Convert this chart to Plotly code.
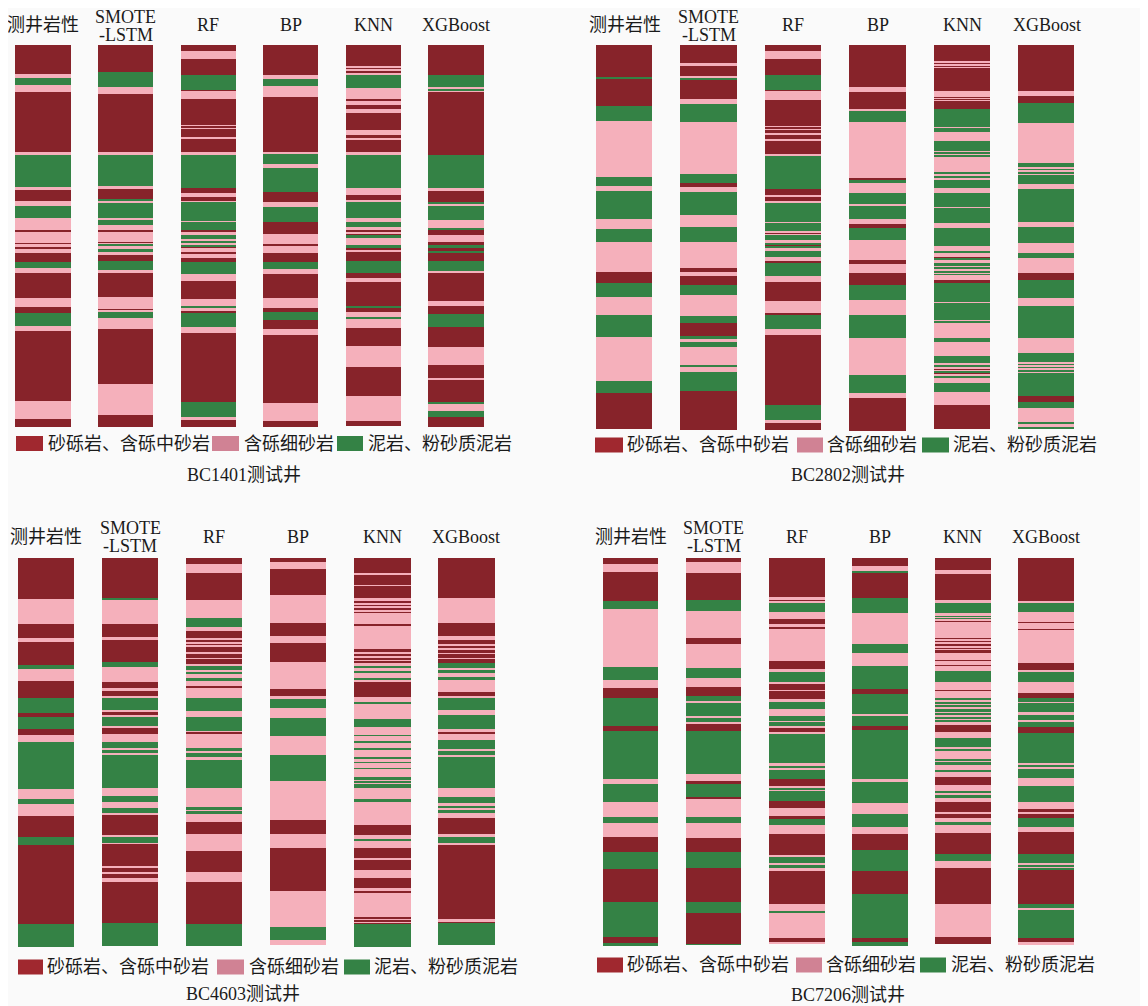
import plotly.graph_objects as go

# lithology codes
S, F, M = 0, 1, 2
LITHOLOGY = ["砂砾岩、含砾中砂岩", "含砾细砂岩", "泥岩、粉砂质泥岩"]
MODELS = ["测井岩性", "SMOTE<br>-LSTM", "RF", "BP", "KNN", "XGBoost"]
WELLS = ["BC1401测试井", "BC2802测试井", "BC4603测试井", "BC7206测试井"]

# each layer: (lithology, bottom depth); a layer starts at the previous bottom (first at 0)
# ---- BC1401 ----
TL_LOG = [(S,29),(F,32.7),(M,40.3),(F,47),(S,106.7),(F,109.7),(M,142.3),(F,145),(S,156),(F,160.7),(M,173.3),(F,185),(S,187.3),(F,197.7),(S,199),(F,202.3),(S,204.3),(F,208.3),(S,216.7),(M,223.3),(F,228.3),(S,253.3),(F,262.3),(S,267.7),(M,281),(F,285.7),(S,356.3),(F,373.7),(S,381.7)]
TL_SMOTE = [(S,27),(M,42.3),(F,49.3),(S,107.3),(F,109.7),(M,141),(F,144),(S,154),(M,156),(F,158.3),(M,173.3),(F,175),(M,180),(F,185),(S,187.3),(F,196.7),(S,198.3),(F,199),(M,201),(F,204.3),(M,206.7),(F,210),(S,215.7),(M,225),(F,228.3),(S,251.7),(F,264),(S,265.7),(F,267),(M,273),(F,284),(S,339.3),(F,370),(S,381.7)]
TL_RF = [(S,6),(F,14.3),(S,30.3),(M,45),(S,46.3),(F,54.3),(S,80),(F,81),(S,83),(F,84),(S,92.3),(F,94.3),(S,107.3),(F,109.7),(M,143.3),(S,148.3),(F,151.7),(S,156),(F,157),(M,175.7),(F,177.3),(M,185),(S,187.3),(F,190),(M,194),(F,196),(M,198.3),(F,200.7),(M,202.3),(S,203.3),(F,206.7),(S,209),(F,213.3),(S,216.7),(M,229),(F,235.7),(S,254.3),(F,261.7),(M,263.3),(F,265.7),(S,268.3),(M,281.7),(F,287.7),(S,357),(M,371.7),(F,375),(S,381.7)]
TL_BP = [(S,29.7),(F,33.7),(M,41),(F,52.3),(S,106.7),(F,108.7),(M,119),(F,123.3),(M,147),(S,156.7),(F,161.7),(M,176.7),(S,188.7),(F,199),(S,201),(F,208.3),(S,217.3),(M,224.3),(F,229),(S,253.3),(F,262.7),(S,267),(M,275),(S,284.3),(F,290),(S,357.7),(F,376.3),(S,381.7)]
TL_KNN = [(S,20.7),(F,22.7),(S,24),(F,26),(S,27.5),(F,29.7),(M,43.3),(F,54.3),(S,56.3),(F,60.3),(S,64.3),(F,68.3),(S,85),(F,90),(S,93.3),(F,95),(S,106.7),(F,109.7),(M,143.3),(F,150),(S,155),(F,156.7),(M,173.3),(F,176.7),(M,182.3),(F,185),(S,187),(F,188.5),(S,190),(M,193.3),(F,200),(M,203.3),(S,205.7),(F,207.3),(S,215.7),(M,228.3),(S,233.3),(F,237.3),(S,261),(M,262.7),(S,267.3),(F,272.3),(M,274.3),(F,283.3),(S,300.7),(F,322.3),(S,351),(F,375.7),(S,381)]
TL_XGB = [(S,30.3),(M,41.7),(F,44.5),(M,45.5),(F,46.7),(S,110),(M,143.3),(F,145.7),(S,157),(M,158.3),(F,161),(M,175),(F,182.7),(M,185),(S,190),(F,196.7),(S,200),(M,203.3),(S,206.7),(M,208.3),(S,215.7),(M,225.7),(F,228.3),(S,255.7),(F,261),(S,269),(M,281.7),(S,302.3),(F,320),(S,333.3),(F,335),(S,357),(M,359),(F,365.7),(M,371.7),(S,381.7)]
# ---- BC2802 ----
TR_LOG = [(S,32.3),(M,33.7),(S,61),(M,76),(F,131.7),(M,141),(F,145.7),(M,174),(F,184),(M,196.7),(F,227.3),(S,238.3),(M,252.3),(F,270),(M,291.7),(F,336),(M,348.3),(S,384)]
TR_SMOTE = [(S,18.3),(F,20.7),(S,31.7),(F,33),(M,34.3),(S,54.3),(F,58.7),(M,77.3),(F,129),(M,137.7),(S,142.3),(F,146.7),(M,170),(F,181.7),(M,196.7),(F,223.3),(S,227.3),(F,230.7),(S,240),(M,250),(F,271),(M,278.3),(S,291),(M,294.3),(F,296.7),(M,301.7),(F,320),(M,322.3),(F,326.7),(M,346),(S,385)]
TR_RF = [(S,5.7),(F,14),(S,30),(M,45),(S,46.3),(F,55),(S,81),(F,82),(S,84),(F,85),(S,88.3),(F,90),(S,94.3),(F,96),(S,109),(F,110.7),(M,144.3),(S,150),(F,151.7),(S,156.7),(F,158.3),(M,176.7),(F,178.3),(M,186),(F,188),(S,189),(F,190),(M,195),(F,198.3),(M,200.3),(S,201.3),(M,203.3),(F,205.7),(M,211.7),(F,215.7),(S,217.7),(M,231),(F,237.3),(S,256),(F,268.3),(S,270.3),(M,284.3),(F,290.3),(S,360),(M,375),(F,377.7),(S,385)]
TR_BP = [(S,42.3),(F,47),(S,64.3),(F,66),(M,76.7),(F,133.3),(S,135),(M,138.3),(F,147.7),(M,159),(F,160.7),(M,173.7),(F,179),(S,183.3),(M,195),(F,215),(S,219),(F,228.3),(S,240),(M,255),(F,270),(M,293.3),(F,330),(M,348.3),(F,353.3),(S,386)]
TR_KNN = [(S,16),(F,17.5),(S,19),(F,20.5),(S,22),(F,23),(S,45.7),(F,51.7),(S,53),(F,54),(S,55),(F,56),(S,64),(M,81.7),(F,83),(M,86.7),(F,95.7),(M,105.7),(F,107.3),(M,109),(F,110.7),(M,112),(F,127.7),(M,129),(F,131),(M,133.3),(F,135),(M,143.3),(F,148.3),(M,161.7),(F,162.7),(M,178.3),(F,182.7),(M,201),(F,205.7),(M,207.7),(F,211.7),(S,213.3),(M,215),(F,218.3),(M,221),(F,222.5),(M,224),(F,225.5),(M,227.7),(F,229),(M,230),(F,235),(S,237.7),(M,256.7),(F,258.3),(M,275),(F,276.5),(M,277.5),(F,293.3),(M,296.7),(F,311),(M,317.7),(F,319.5),(S,320.5),(M,322),(F,323.5),(S,325),(F,326.5),(M,328),(S,329.5),(F,331),(M,333.3),(F,338.3),(M,346.7),(F,360),(S,384.3)]
TR_XGB = [(S,45.7),(F,50.7),(S,58.3),(M,78.3),(F,117.7),(M,121.7),(F,124),(M,125),(F,127.5),(M,128.5),(F,130),(M,139),(F,144),(M,176.7),(F,181.7),(M,197.7),(F,207.7),(M,213.3),(F,228.3),(S,235),(M,253.3),(F,261),(M,293.3),(F,307.7),(M,316.7),(F,319),(M,320),(F,322),(M,323),(F,325.5),(M,326.5),(F,328.3),(M,350.7),(S,356.7),(M,363.3),(F,376.7),(M,379),(F,381.7),(M,384)]
# ---- BC4603 ----
BL_LOG = [(S,41.3),(F,66.3),(S,80.3),(F,83.7),(S,107),(M,111),(F,123),(S,139.7),(M,154.7),(S,158.7),(M,171.3),(S,177),(F,184.3),(M,231),(F,241),(M,246),(F,257.7),(S,279.3),(M,287),(S,366),(M,389.3)]
BL_SMOTE = [(S,40.3),(M,41.7),(F,66),(S,78.7),(F,82),(S,104.3),(M,109.3),(F,123.7),(S,130.3),(F,132.7),(S,137.7),(F,139.7),(M,152),(F,153.7),(S,157),(F,158.7),(M,167.7),(F,170.3),(S,176.3),(F,183.7),(M,190.3),(F,192),(M,195.3),(F,197),(M,229.7),(F,238),(M,244.3),(F,250.3),(M,255.3),(F,257),(S,277),(F,278.7),(M,284.7),(F,286),(S,308.7),(F,310.3),(S,314.3),(F,316),(S,320.3),(F,324.3),(S,365.3),(M,388)]
BL_RF = [(S,6),(F,14.7),(S,41.7),(F,60.3),(M,68.7),(F,73),(S,80.3),(F,82),(S,84),(F,85.5),(S,87),(F,88.5),(S,94),(F,95.3),(S,100),(F,101),(S,106.3),(F,107.7),(M,112),(F,113.7),(M,116.3),(F,119.7),(M,122.7),(F,127.7),(S,130.3),(F,140.3),(M,153),(F,158.7),(M,172.7),(F,174.3),(S,176.3),(F,190.3),(M,193),(F,194.5),(M,199.3),(F,201.7),(M,230.3),(F,249.7),(M,251.5),(F,253),(M,256.3),(F,264.3),(S,276.3),(F,292.7),(S,314.3),(F,324.3),(S,366),(M,387.7)]
BL_BP = [(S,4.3),(F,11.3),(S,37),(F,65.3),(S,77.7),(F,84.7),(S,104.3),(F,131),(S,138),(F,141),(M,149.7),(F,160.3),(M,177.7),(F,197),(M,222.7),(F,262),(S,276),(F,290.3),(S,332.7),(F,369.3),(M,382),(F,387)]
BL_KNN = [(S,15.3),(F,16.3),(S,27),(F,28),(S,40.3),(F,42.7),(S,45),(F,46.5),(S,48.5),(F,50),(S,52),(F,53.5),(S,55),(F,66.3),(S,68.3),(F,91.3),(S,93.7),(F,96),(S,98.5),(F,99.5),(S,102),(F,103),(S,105.3),(F,108.7),(M,109.3),(F,113.7),(M,115.3),(F,120.3),(M,122),(F,123.7),(S,138.7),(F,143.7),(M,146),(F,161),(M,168.7),(F,177),(M,178),(F,183.7),(M,185.3),(F,190.5),(M,191.5),(F,199.3),(M,200.3),(F,204),(M,205),(F,210),(M,211),(F,218.7),(M,221.7),(F,222.5),(M,225),(F,226),(M,230.3),(F,241),(M,244.3),(F,267),(S,277),(F,281.3),(M,283),(F,290.3),(S,300.3),(F,302),(S,312),(F,320.3),(S,329.7),(F,332.7),(S,334.7),(F,358.7),(S,361),(F,362),(S,364),(F,365),(S,366),(M,389.3)]
BL_XGB = [(S,40.3),(F,65.3),(S,78),(F,82),(S,86),(F,87.3),(S,90),(F,91.3),(S,95),(F,96),(S,100),(F,101),(S,105.3),(M,110.3),(F,112),(M,115.3),(F,118.7),(M,122),(F,133.7),(S,137.7),(F,139.7),(M,152),(F,157),(M,171),(F,173.7),(S,176.3),(F,182),(M,191),(F,192.7),(M,197),(F,198.7),(M,229.7),(F,238.7),(M,245.3),(F,248),(M,250.3),(F,252),(M,255.3),(F,260.3),(S,276.3),(F,278.7),(M,284.7),(F,287),(S,361),(F,363.7),(S,365.3),(M,387)]
# ---- BC7206 ----
BR_LOG = [(S,6),(F,13.7),(S,42.7),(M,51.3),(F,109.3),(M,122),(F,129.7),(S,139.7),(M,168),(S,173),(M,221.3),(F,226.3),(M,243.7),(F,258.7),(M,265.3),(F,279.3),(S,294.3),(M,311),(S,344.3),(M,379.3),(S,384.7),(M,388)]
BR_SMOTE = [(S,4.3),(F,15.3),(S,42),(M,53),(F,80.3),(S,86.3),(F,110.3),(M,120.3),(F,128.7),(S,137.7),(M,143),(F,145.3),(M,157.7),(F,159.7),(M,164.3),(F,166),(S,173),(M,216.3),(F,223),(S,226),(M,239.3),(S,241.3),(F,258.7),(M,264.7),(F,280.3),(S,294.3),(M,309.7),(S,343.7),(M,355.3),(S,386),(M,387)]
BR_RF = [(S,39.7),(F,41.5),(S,43),(F,45.3),(M,54.3),(F,61.3),(S,65.7),(F,68.7),(S,71),(F,103),(S,111.3),(F,114.3),(M,123.7),(F,126.3),(S,132),(F,133),(S,141.3),(F,144.3),(M,151.3),(F,158),(M,163),(F,164.3),(M,168),(F,169.3),(S,174.7),(F,176),(M,205.3),(F,207.5),(M,210),(F,211.5),(M,221.3),(S,227.7),(F,230),(M,232),(F,233.3),(M,243),(S,249.7),(F,257.7),(S,261),(M,267),(F,276.3),(S,297),(F,298.7),(M,305.3),(F,307),(M,310.3),(F,313),(S,346.3),(F,353.7),(M,355.3),(F,380.3),(S,384.3),(F,386.3)]
BR_BP = [(S,7.7),(F,13),(M,14.3),(S,40.3),(M,55.3),(F,86.3),(M,94.7),(F,107.7),(M,131),(S,136.3),(M,156.3),(F,158),(M,167.7),(S,172),(M,221.3),(F,223.7),(M,245.3),(F,256.3),(M,268.7),(F,276.3),(S,292),(M,313),(S,336),(M,380.3),(S,383.7),(M,388)]
BR_KNN = [(S,12),(F,13.3),(S,14),(F,15.3),(S,42),(F,45.3),(M,55.3),(F,58),(M,59),(F,60),(M,61),(F,63),(S,64),(F,80.3),(S,81.5),(F,83),(S,84.3),(F,85.5),(S,88),(F,89.3),(S,91),(F,92),(S,95.3),(F,102),(S,103),(F,107),(S,108.3),(F,113),(M,123.7),(F,131.5),(S,132.5),(F,140.3),(M,142),(F,144),(M,145.5),(F,147.7),(M,149),(F,151),(M,153.7),(F,155.5),(M,157.3),(F,159),(M,160.5),(F,162.3),(M,164),(F,167),(S,173.7),(F,179.7),(M,188.7),(F,191),(M,193),(F,201),(M,202.5),(F,204),(M,207.3),(F,212),(M,214),(F,218.7),(S,227),(F,233.7),(M,235.3),(F,236.5),(M,240.3),(F,243.7),(S,253.7),(F,256),(S,260.3),(F,264.3),(M,267),(F,274.7),(S,296),(M,303),(F,310.3),(S,346.3),(F,379.3),(S,385.7)]
BR_XGB = [(S,43),(F,45.3),(M,54.3),(F,64.3),(S,65.3),(F,68.7),(S,69.7),(F,71),(S,72),(F,105.3),(S,112),(F,113.7),(M,124.3),(F,134.7),(S,140.3),(M,143.7),(F,145.3),(M,154.3),(F,157),(M,162),(F,163.7),(M,168.7),(S,175.3),(M,205.3),(F,207),(M,209),(F,210.5),(M,220.3),(F,227.7),(M,244.3),(F,251),(S,253.7),(F,256.3),(S,260.3),(M,268.7),(F,274.3),(S,296),(M,305.3),(F,307),(M,309),(F,310.5),(M,312),(S,346.3),(M,350.3),(F,352),(M,379.7),(S,384.3),(F,387)]

PANELS = [
    [TL_LOG, TL_SMOTE, TL_RF, TL_BP, TL_KNN, TL_XGB],
    [TR_LOG, TR_SMOTE, TR_RF, TR_BP, TR_KNN, TR_XGB],
    [BL_LOG, BL_SMOTE, BL_RF, BL_BP, BL_KNN, BL_XGB],
    [BR_LOG, BR_SMOTE, BR_RF, BR_BP, BR_KNN, BR_XGB],
]

# ---------------- styling / layout ----------------
BAR_COLORS = ["#87232a", "#f5b0bb", "#348245"]
LEGEND_COLORS = ["#a0282f", "#d08294", "#348245"]
FONT = "Liberation Serif, 'Noto Sans CJK SC', serif"
TEXT_COLOR = "#1a1a1a"
W, H = 1140, 998      # figure size (page adds an 8px body margin)
OFF = 8


def fx(px):
    return min(max((px - OFF) / W, 0), 1)


def fy(py):
    return min(max(1 - (py - OFF) / H, 0), 1)


GEOM = [
    dict(x=(1.7, 497.3), y=(45, 431), depth=386, head=24.5, two=(16.5, 35), leg=443.5,
         legx=[(16, 43, 46), (212, 239, 242), (337, 363, 366)], title=(244, 475)),
    dict(x=(582.3, 1088.7), y=(45, 431), depth=386, head=25, two=(16.5, 35), leg=445,
         legx=[(595, 623, 625), (797, 823, 825), (922, 949, 951)], title=(848, 474.5)),
    dict(x=(4, 508.5), y=(558, 948), depth=390, head=536.5, two=(527.5, 545.5), leg=967,
         legx=[(18, 43, 45), (217, 244, 247), (344, 370, 372)], title=(243, 994)),
    dict(x=(589, 1087.6), y=(558, 948), depth=390, head=536.5, two=(527.5, 545.5), leg=965,
         legx=[(597, 623, 625), (796, 822, 824), (920, 946, 949)], title=(848, 995)),
]

fig = go.Figure()
annotations = []
shapes = []
layout_axes = {}

for p, cols in enumerate(PANELS):
    g = GEOM[p]
    suf = "" if p == 0 else str(p + 1)
    xa, ya = "x" + suf, "y" + suf
    for c in range(3):
        xs, bases, ths = [], [], []
        for i, col in enumerate(cols):
            top = 0
            for lith, bottom in col:
                if lith == c:
                    xs.append(i)
                    bases.append(top)
                    ths.append(bottom - top)
                top = bottom
        fig.add_trace(go.Bar(
            x=xs, y=ths, base=bases, width=0.67,
            marker=dict(color=BAR_COLORS[c], line=dict(width=0)),
            xaxis=xa, yaxis=ya, showlegend=False, hoverinfo="skip",
        ))
    # keep column spacing; clip the domain at the page edge if needed
    x0, x1 = g["x"]
    step = (x1 - x0) / 6.0
    lo = -0.5
    if x0 < OFF:
        lo = -0.5 + (OFF - x0) / step
        x0 = OFF
    layout_axes["xaxis" + suf] = dict(domain=[fx(x0), fx(x1)], range=[lo, 5.5],
                                       visible=False, fixedrange=True, anchor=ya)
    layout_axes["yaxis" + suf] = dict(domain=[fy(g["y"][1]), fy(g["y"][0])], range=[g["depth"], 0],
                                       visible=False, fixedrange=True, anchor=xa)
    # column headers
    for i, name in enumerate(MODELS):
        lines = name.split("<br>")
        if len(lines) == 1:
            annotations.append(dict(x=i, xref=xa, y=fy(g["head"]), yref="paper", text=name,
                                    showarrow=False, xanchor="center", yanchor="middle",
                                    font=dict(family=FONT, size=18, color=TEXT_COLOR)))
        else:
            for line, yy in zip(lines, g["two"]):
                annotations.append(dict(x=i, xref=xa, y=fy(yy), yref="paper", text=line,
                                        showarrow=False, xanchor="center", yanchor="middle",
                                        height=17, borderpad=0, valign="middle",
                                        font=dict(family=FONT, size=18, color=TEXT_COLOR)))
    # legend
    for c, (lx0, lx1, tx) in enumerate(g["legx"]):
        shapes.append(dict(type="rect", xref="paper", yref="paper",
                           x0=fx(lx0), x1=fx(lx1), y0=fy(g["leg"] + 7.5), y1=fy(g["leg"] - 7.5),
                           fillcolor=LEGEND_COLORS[c], line=dict(width=0)))
        annotations.append(dict(x=fx(tx), y=fy(g["leg"]), xref="paper", yref="paper",
                                text=LITHOLOGY[c], showarrow=False, xanchor="left", yanchor="middle",
                                font=dict(family=FONT, size=18, color=TEXT_COLOR)))
    # well title
    annotations.append(dict(x=fx(g["title"][0]), y=fy(g["title"][1]), xref="paper", yref="paper",
                            text=WELLS[p], showarrow=False, xanchor="center", yanchor="middle",
                            font=dict(family=FONT, size=18, color=TEXT_COLOR)))

fig.update_layout(
    width=W, height=H,
    margin=dict(l=0, r=0, t=0, b=0),
    paper_bgcolor="#fafafa", plot_bgcolor="#fafafa",
    barmode="overlay", bargap=0,
    annotations=annotations, shapes=shapes,
    **layout_axes,
)

fig.write_html("out.html", config={"displayModeBar": False})
